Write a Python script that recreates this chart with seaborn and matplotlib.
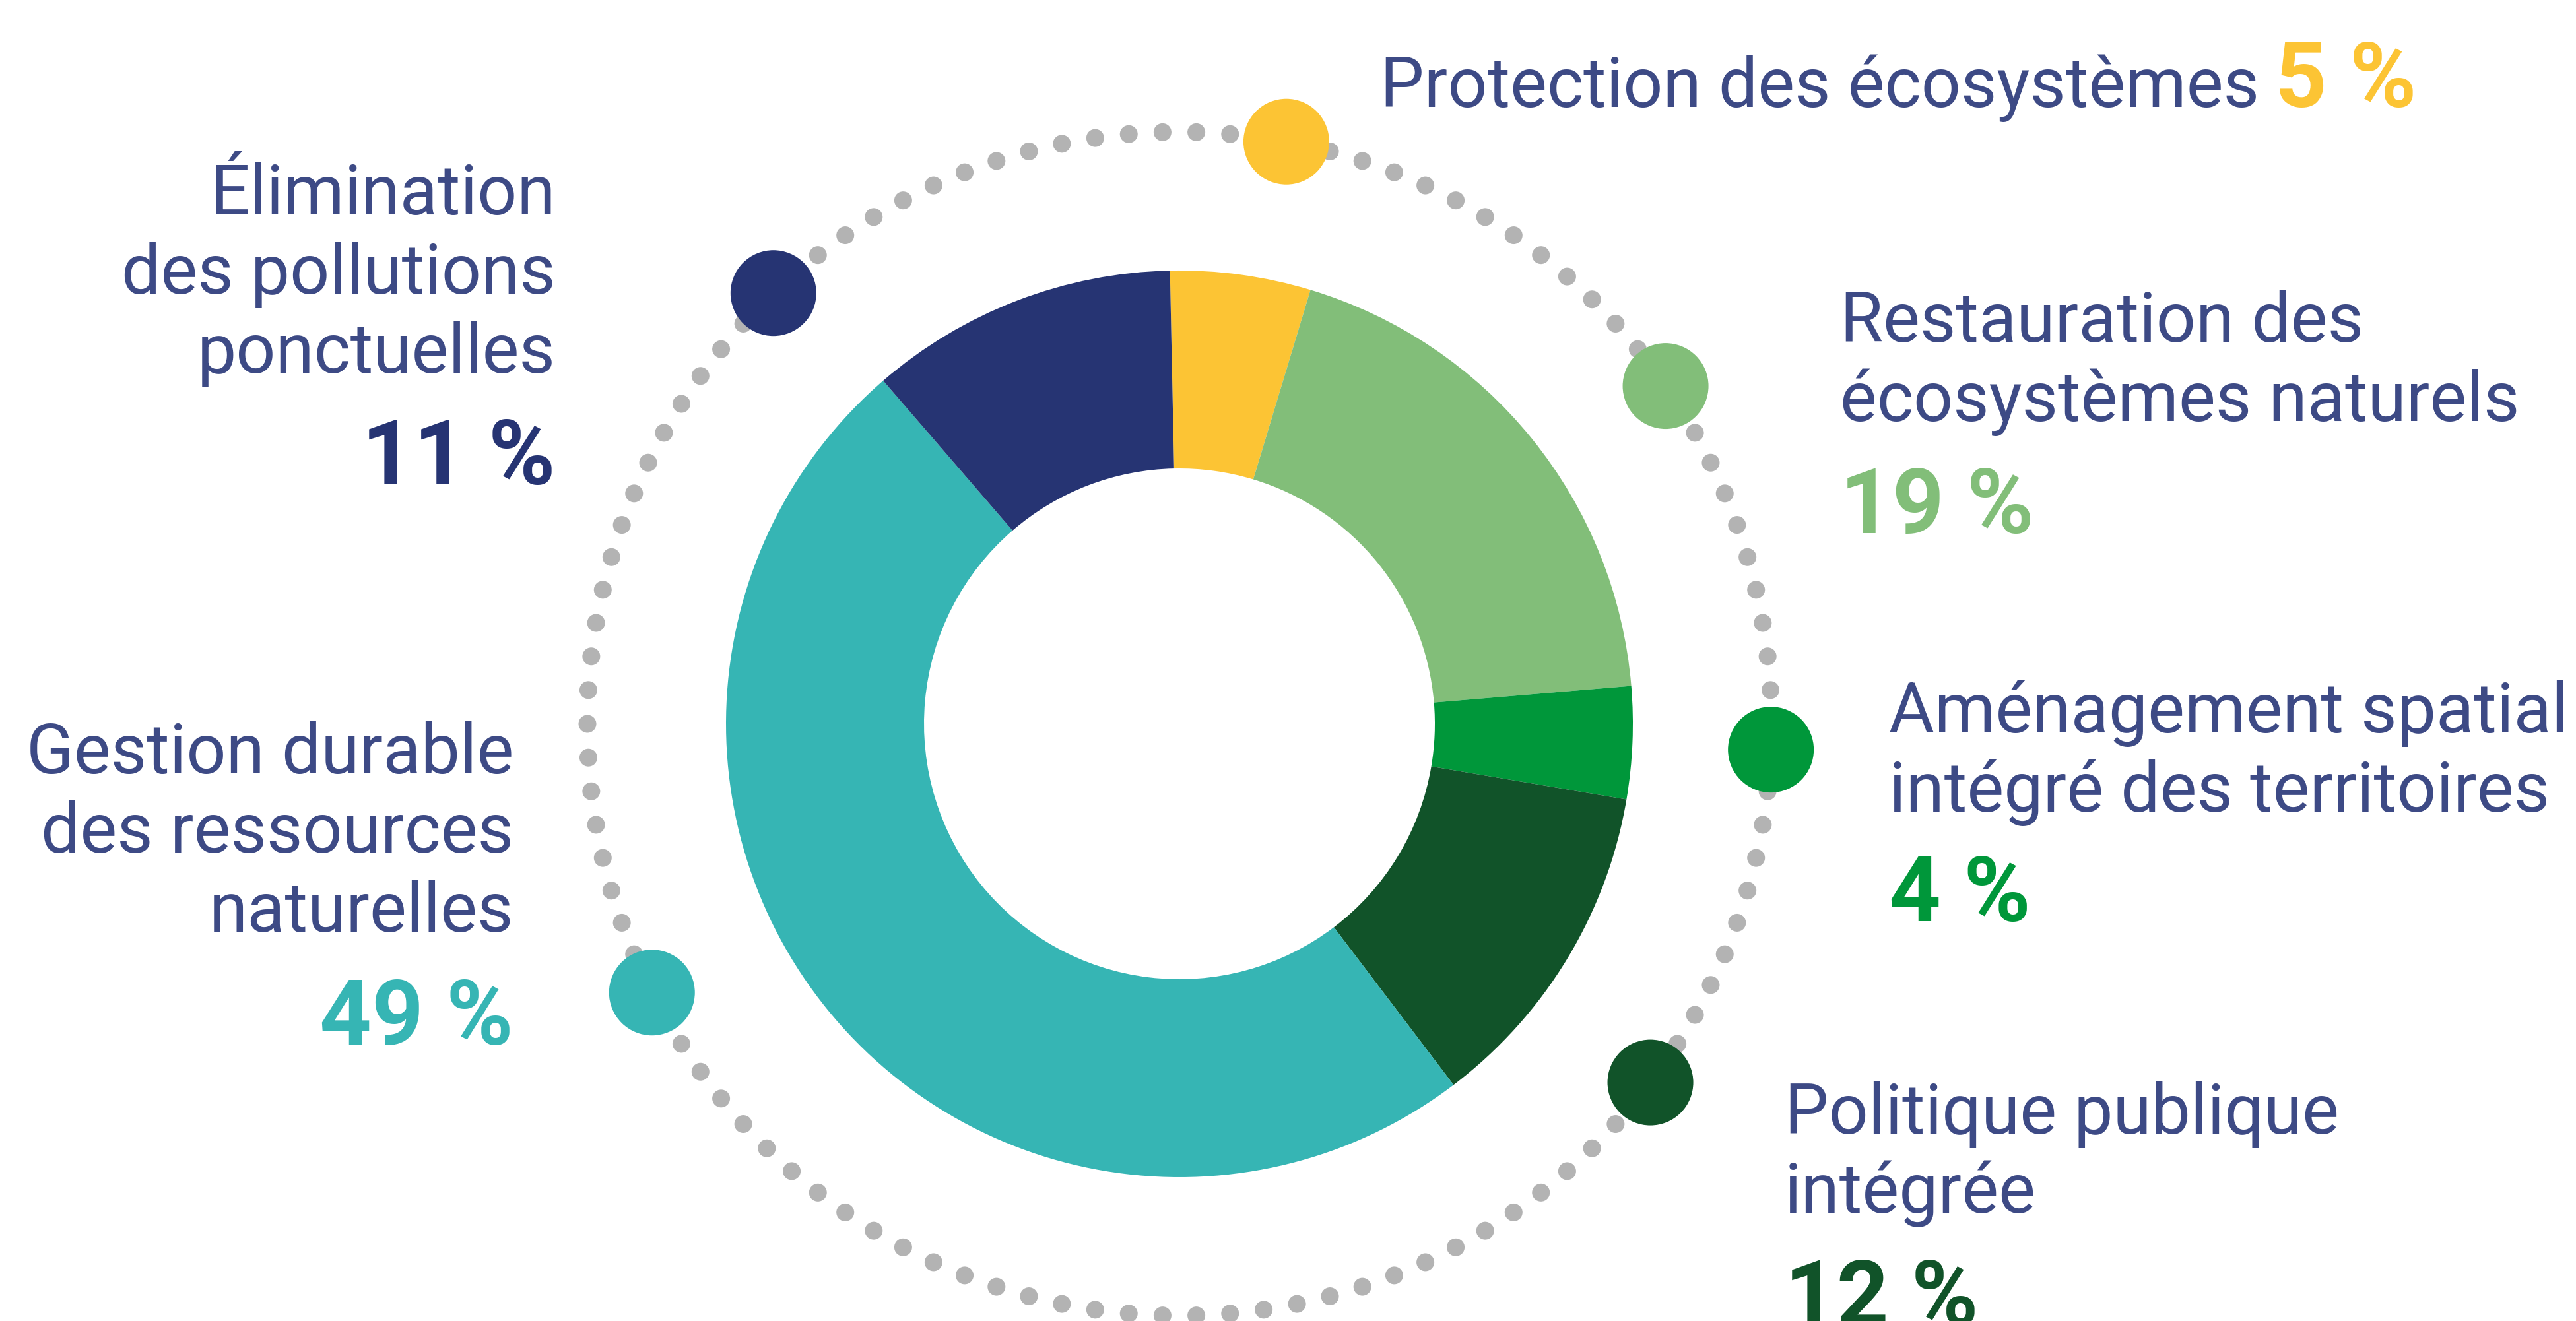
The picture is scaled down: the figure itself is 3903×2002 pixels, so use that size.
import numpy as np
import matplotlib
matplotlib.use("Agg")
import matplotlib.pyplot as plt
import seaborn as sns
import pandas as pd

# ---------------- data ----------------
categories = [
    "Protection des écosystèmes",
    "Restauration des\nécosystèmes naturels",
    "Aménagement spatial\nintégré des territoires",
    "Politique publique\nintégrée",
    "Gestion durable\ndes ressources\nnaturelles",
    "Élimination\ndes pollutions\nponctuelles",
]
values = [5, 19, 4, 12, 49, 11]
pct_labels = [f"{v} %" for v in values]

# ---------------- styles / layout ----------------
colors = ["#fcc434", "#82be79", "#00973a", "#115329", "#36b5b4", "#263473"]
label_color = "#3d4a85"
dot_color = "#b3b3b3"

W, H = 3903, 2002
cx, cy_img = 1787, 1097
r_out, r_in = 687, 387
r_ring = 897
marker_angles = [79.6, 34.8, -2.5, -37.3, 207.0, 133.3]
marker_d = 130
dot_d = 27
n_dots = 110

# text layout: (x, first baseline y (image coords), ha, inline pct?, pct baseline)
text_layout = [
    (2091, 162, "left", True, 162),
    (2788, 518, "left", False, 808),
    (2862, 1110, "left", False, 1396),
    (2704, 1718, "left", False, 2008),
    (778, 1172, "right", False, 1583),
    (842, 325, "right", False, 734),
]
line_gap = 120
fs_text = 76
fs_pct = 99
inline_gap = 24

sns.set_theme(style="white")
plt.rcParams["font.family"] = ["Roboto", "DejaVu Sans"]
fam = ["Roboto", "DejaVu Sans"]


def Y(y_img):
    return H - y_img


fig = plt.figure(figsize=(W / 100, H / 100), dpi=100)
ax = fig.add_axes([0, 0, 1, 1])

# donut
ax.pie(values, colors=colors, startangle=91.2, counterclock=False,
       radius=r_out, center=(cx, Y(cy_img)),
       wedgeprops=dict(width=r_out - r_in, linewidth=0, antialiased=True))

ax.set_xlim(0, W)
ax.set_ylim(0, H)
ax.set_aspect("equal")
ax.axis("off")

# dotted ring
th = np.linspace(0, 2 * np.pi, n_dots, endpoint=False)
ring = pd.DataFrame({"x": cx + r_ring * np.cos(th), "y": Y(cy_img) + r_ring * np.sin(th)})
sns.scatterplot(data=ring, x="x", y="y", ax=ax, s=(dot_d * 0.72) ** 2,
                color=dot_color, edgecolor="none", linewidth=0, zorder=2)

# coloured markers
ang = np.deg2rad(marker_angles)
mk = pd.DataFrame({"x": cx + r_ring * np.cos(ang), "y": Y(cy_img) + r_ring * np.sin(ang),
                   "cat": categories})
sns.scatterplot(data=mk, x="x", y="y", hue="cat", palette=colors, ax=ax,
                s=(marker_d * 0.72) ** 2, edgecolor="none", linewidth=0,
                legend=False, zorder=3)
ax.set_xlim(0, W)
ax.set_ylim(0, H)
ax.set_xlabel("")
ax.set_ylabel("")

fig.canvas.draw()
renderer = fig.canvas.get_renderer()

# labels
for cat, pct, col, (x, y0, ha, inline, py) in zip(categories, pct_labels, colors, text_layout):
    lines = cat.split("\n")
    last = None
    for i, ln in enumerate(lines):
        last = ax.text(x, Y(y0 + i * line_gap), ln, ha=ha, va="baseline",
                       fontsize=fs_text, color=label_color, fontfamily=fam)
    if inline:
        bb = last.get_window_extent(renderer=renderer)
        x_end = ax.transData.inverted().transform((bb.x1, bb.y0))[0]
        ax.text(x_end + inline_gap, Y(py), pct, ha="left", va="baseline", fontsize=fs_pct,
                fontweight="bold", color=col, fontfamily=fam)
    else:
        ax.text(x, Y(py), pct, ha=ha, va="baseline", fontsize=fs_pct,
                fontweight="bold", color=col, fontfamily=fam)

fig.savefig("out.png", dpi=100, facecolor="white")
